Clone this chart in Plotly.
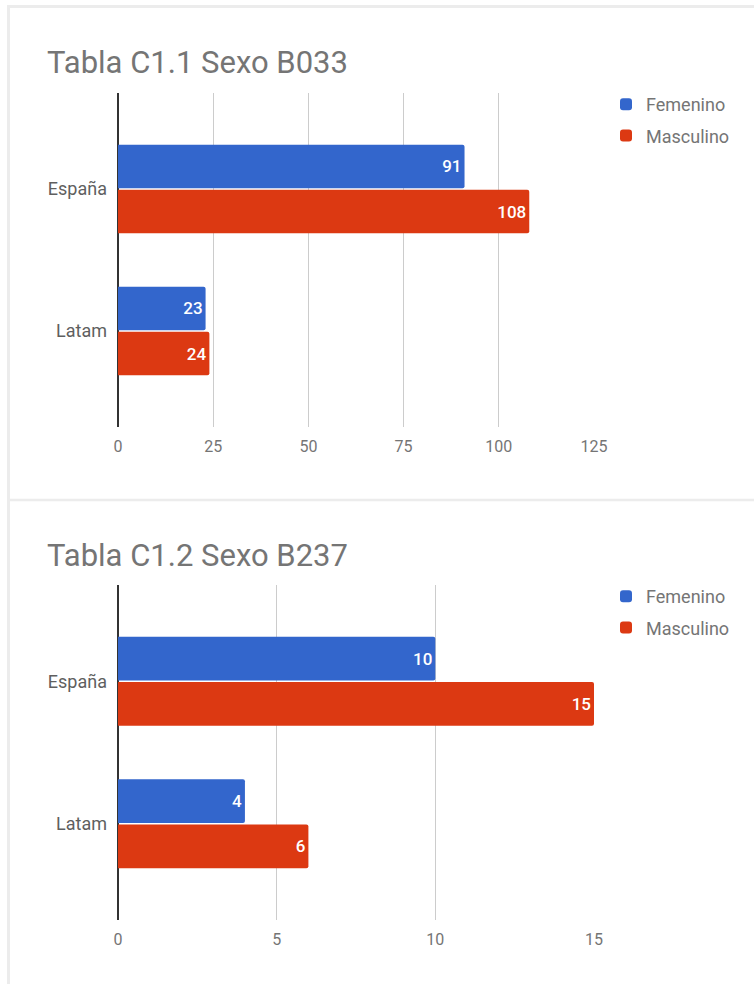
import plotly.graph_objects as go

categories = ["España", "Latam"]
series_names = ["Femenino", "Masculino"]
b033_femenino = [91, 23]
b033_masculino = [108, 24]
b237_femenino = [10, 4]
b237_masculino = [15, 6]
titles = ["Tabla C1.1 Sexo B033", "Tabla C1.2 Sexo B237"]
x1_ticks = [0, 25, 50, 75, 100, 125]
x2_ticks = [0, 5, 10, 15]

colors = ["#3366CC", "#DC3912"]
W, H = 754, 984
FONT = "Roboto"

def px_x(v):
    return v / W

def px_y(v):
    return 1 - v / H

fig = go.Figure()

panels = [
    (b033_femenino, b033_masculino, "x", "y", "legend", "1"),
    (b237_femenino, b237_masculino, "x2", "y2", "legend2", "2"),
]
for fem, mas, xa, ya, leg, sfx in panels:
    for name, vals, col in zip(series_names, [fem, mas], colors):
        fig.add_trace(go.Bar(
            y=categories, x=vals, name=name, orientation="h",
            marker=dict(color=col, cornerradius=2, line=dict(width=0)),
            text=[str(v) for v in vals], textposition="inside",
            insidetextanchor="end", constraintext="none",
            textfont=dict(color="white", size=17, family=FONT, weight=500),
            xaxis=xa, yaxis=ya, legend=leg, legendgroup=name + sfx,
            hoverinfo="skip",
        ))

xdom = [px_x(118), px_x(594)]
axis_common = dict(
    showgrid=True, gridcolor="#cccccc", gridwidth=1,
    zeroline=True, zerolinecolor="#333333", zerolinewidth=1.5,
    tickfont=dict(family=FONT, size=16, color="#757575"),
    ticks="", showline=False, ticklabelstandoff=8, automargin=False,
)
yaxis_common = dict(
    showgrid=False, zeroline=False, showline=False, ticks="",
    tickfont=dict(family=FONT, size=18, color="#5f5f5f"),
    ticklabelstandoff=10, automargin=False,
)
legend_common = dict(
    xanchor="left", yanchor="top",
    font=dict(family=FONT, size=18, color="#757575"),
    tracegroupgap=5, bgcolor="rgba(0,0,0,0)", traceorder="grouped",
)

fig.update_layout(
    width=W, height=H,
    margin=dict(l=0, r=0, t=0, b=0, autoexpand=False),
    paper_bgcolor="white", plot_bgcolor="white",
    barmode="group", bargap=0.366, bargroupgap=0.03,
    showlegend=True,
    xaxis=dict(domain=xdom, anchor="y", range=[0, 125], tickvals=x1_ticks, **axis_common),
    yaxis=dict(domain=[px_y(427), px_y(93)], anchor="x", categoryorder="array",
               categoryarray=categories, range=[1.676, -0.676], **yaxis_common),
    xaxis2=dict(domain=xdom, anchor="y2", range=[0, 15], tickvals=x2_ticks, **axis_common),
    yaxis2=dict(domain=[px_y(920), px_y(585)], anchor="x2", categoryorder="array",
                categoryarray=categories, range=[1.676, -0.676], **yaxis_common),
    legend=dict(x=px_x(606), y=px_y(86), **legend_common),
    legend2=dict(x=px_x(606), y=px_y(578), **legend_common),
    annotations=[
        dict(text=titles[0], x=px_x(45), y=px_y(63), xref="paper", yref="paper",
             xanchor="left", yanchor="middle", showarrow=False,
             font=dict(family=FONT, size=31, color="#757575")),
        dict(text=titles[1], x=px_x(45), y=px_y(555), xref="paper", yref="paper",
             xanchor="left", yanchor="middle", showarrow=False,
             font=dict(family=FONT, size=31, color="#757575")),
    ],
    shapes=[
        dict(type="line", xref="paper", yref="paper", x0=px_x(8.5), x1=px_x(8.5),
             y0=px_y(5), y1=0, line=dict(color="#ececec", width=3)),
        dict(type="line", xref="paper", yref="paper", x0=px_x(7), x1=1,
             y0=px_y(6.5), y1=px_y(6.5), line=dict(color="#ececec", width=3)),
        dict(type="line", xref="paper", yref="paper", x0=px_x(7), x1=1,
             y0=px_y(500), y1=px_y(500), line=dict(color="#ececec", width=2.5)),
    ],
)

fig.write_html(
    "out.html",
    config={"displayModeBar": False},
    post_script="document.body.style.margin='0';document.body.style.overflow='hidden';",
)
